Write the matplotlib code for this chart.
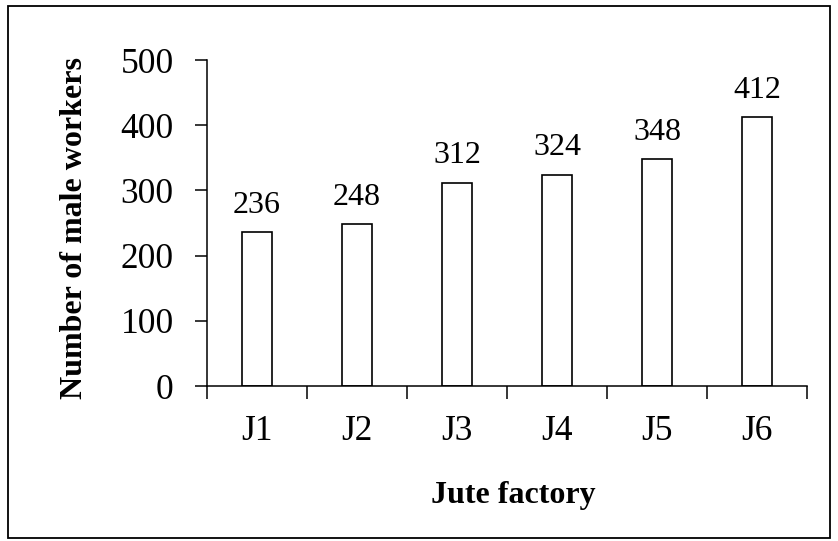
import numpy as np
import matplotlib
matplotlib.use("Agg")
import matplotlib.pyplot as plt
from matplotlib.patches import Rectangle

# data
factories = ["J1", "J2", "J3", "J4", "J5", "J6"]
male_workers = [236, 248, 312, 324, 348, 412]
y_ticks = [0, 100, 200, 300, 400, 500]

plt.rcParams['font.family'] = ['Liberation Serif', 'DejaVu Serif']

fig = plt.figure(figsize=(8.38, 5.41), dpi=100)
ax = fig.add_axes([0.247, 0.2865, 0.716, 0.6025])

# outer frame round the whole figure
fig.patches.append(Rectangle((0.0095, 0.006), 0.981, 0.983, transform=fig.transFigure,
                             fill=False, edgecolor='black', lw=1.3))

x = np.arange(1, len(factories) + 1)
ax.bar(x, male_workers, width=0.3, color='white', edgecolor='black', linewidth=1.2)

for xi, v in zip(x, male_workers):
    ax.annotate(str(v), (xi, v), xytext=(0, 9), textcoords='offset points',
                ha='center', va='bottom', fontsize=23)

ax.set_xlim(0.5, len(factories) + 0.5)
ax.set_ylim(0, 500)
ax.set_yticks(y_ticks)
ax.set_xticks(x)
ax.set_xticklabels(factories)
ax.set_xticks(np.arange(0.5, len(factories) + 1), minor=True)

for s in ['top', 'right']:
    ax.spines[s].set_visible(False)
for s in ['left', 'bottom']:
    ax.spines[s].set_linewidth(1.1)

ax.tick_params(axis='y', direction='out', length=9, width=1.1, labelsize=25.5, pad=15)
ax.tick_params(axis='x', which='major', length=0, labelsize=25.5, pad=21)
ax.tick_params(axis='x', which='minor', direction='out', length=9, width=1.1)

ax.set_xlabel("Jute factory", fontsize=23, fontweight='bold')
ax.set_ylabel("Number of male workers", fontsize=23, fontweight='bold')
ax.xaxis.set_label_coords(0.51, -0.29)
ax.yaxis.set_label_coords(-0.197, 0.485)

plt.savefig("out.png", dpi=100)
